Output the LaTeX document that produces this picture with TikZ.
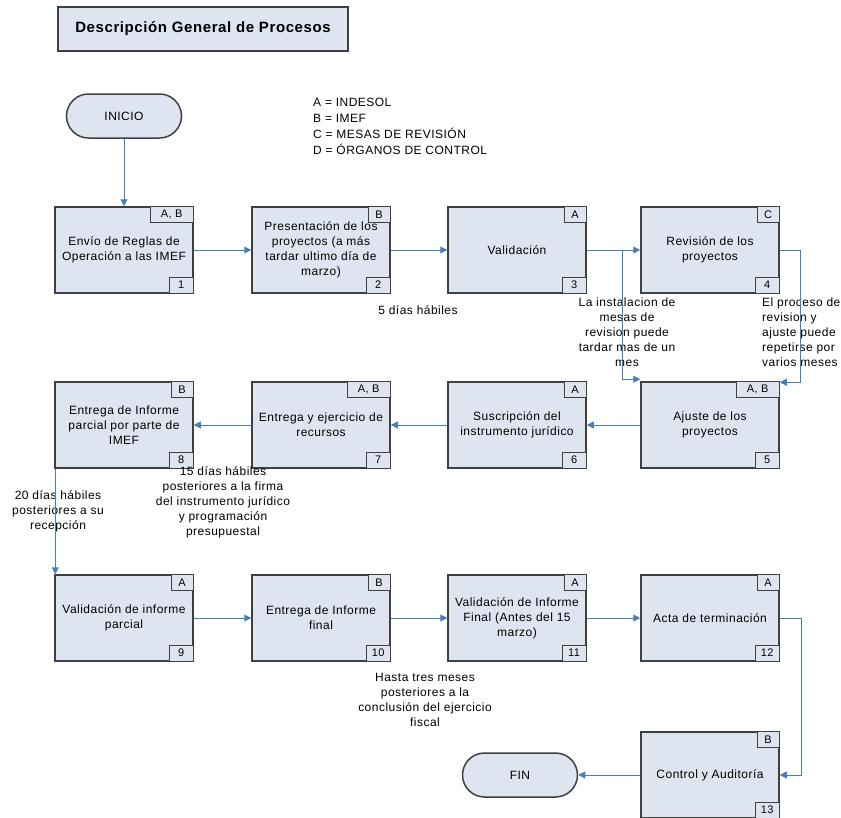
\documentclass[tikz,border=0pt]{standalone}
\usepackage{fontspec}
\setmainfont{Liberation Sans}[LetterSpace=4]
\usepackage{tikz}
\usetikzlibrary{arrows.meta}
\definecolor{boxFill}{RGB}{222, 228, 240}
\definecolor{lineGray}{RGB}{64, 64, 64}
\definecolor{linkBlue}{RGB}{74, 126, 187}

\begin{document}
\begin{tikzpicture}[x=1pt, y=-1pt,
	box/.style={draw=lineGray, line width=1.5pt, fill=boxFill, minimum width=138pt, minimum height=86pt, align=center, inner sep=2pt, font=\fontsize{12}{15}\selectfont},
	term/.style={draw=lineGray, line width=1.5pt, fill=boxFill, rounded corners=22pt, minimum width=115pt, minimum height=44pt, font=\fontsize{12}{13}\selectfont},
	tag/.style={draw=lineGray, line width=1.2pt, fill=boxFill, minimum width=22pt, minimum height=16pt, inner sep=1pt, font=\fontsize{11}{11}\selectfont},
	tagw/.style={tag, minimum width=43pt},
	note/.style={align=center, inner sep=0pt, font=\fontsize{12}{15}\selectfont},
	link/.style={draw=linkBlue, line width=1pt, -{Triangle[length=7pt, width=7pt]}}]
	\useasboundingbox (0,0) rectangle (841,817);
	
	% Title
	\node[draw=lineGray, line width=1.5pt, fill=boxFill, minimum width=290pt, minimum height=44pt, font=\fontsize{15}{15}\selectfont\bfseries] (title) at (203,29) {Descripción General de Procesos};
	
	% Start and end
	\node[term] (ini) at (124,116) {INICIO};
	\node[term] (fin) at (520,775) {FIN};
	
	% Legend
	\node[anchor=west, align=left, inner sep=0pt, font=\fontsize{12}{16}\selectfont] (legend) at (313,126) {A = INDESOL\\B = IMEF\\C = MESAS DE REVISIÓN\\D = ÓRGANOS DE CONTROL};
	
	% Row 1
	\node[box] (p1) at (124,250) {Envío de Reglas de\\Operación a las IMEF};
	\node[box] (p2) at (321,250) {Presentación de los\\proyectos (a más\\tardar ultimo día de\\marzo)};
	\node[box] (p3) at (517,250) {Validación};
	\node[box] (p4) at (710,250) {Revisión de los\\proyectos};
	
	% Row 2
	\node[box] (p5) at (710,425) {Ajuste de los\\proyectos};
	\node[box] (p6) at (517,425) {Suscripción del\\instrumento jurídico};
	\node[box] (p7) at (321,425) {Entrega y ejercicio de\\recursos};
	\node[box] (p8) at (124,425) {Entrega de Informe\\parcial por parte de\\IMEF};
	
	% Row 3
	\node[box] (p9) at (124,618) {Validación de informe\\parcial};
	\node[box] (p10) at (321,618) {Entrega de Informe\\final};
	\node[box] (p11) at (517,618) {Validación de Informe\\Final (Antes del 15\\marzo)};
	\node[box] (p12) at (710,618) {Acta de terminación};
	\node[box] (p13) at (710,775) {Control y Auditoría};
	
	% Responsible tags
	\node[tagw, anchor=north east] (t1) at (p1.north east) {A, B};
	\node[tag, anchor=north east] (t2) at (p2.north east) {B};
	\node[tag, anchor=north east] (t3) at (p3.north east) {A};
	\node[tag, anchor=north east] (t4) at (p4.north east) {C};
	\node[tagw, anchor=north east] (t5) at (p5.north east) {A, B};
	\node[tag, anchor=north east] (t6) at (p6.north east) {A};
	\node[tagw, anchor=north east] (t7) at (p7.north east) {A, B};
	\node[tag, anchor=north east] (t8) at (p8.north east) {B};
	\node[tag, anchor=north east] (t9) at (p9.north east) {A};
	\node[tag, anchor=north east] (t10) at (p10.north east) {B};
	\node[tag, anchor=north east] (t11) at (p11.north east) {A};
	\node[tag, anchor=north east] (t12) at (p12.north east) {A};
	\node[tag, anchor=north east] (t13) at (p13.north east) {B};
	
	% Step numbers
	\node[tag, minimum width=24pt, anchor=south east] (n1) at (p1.south east) {1};
	\node[tag, minimum width=24pt, anchor=south east] (n2) at (p2.south east) {2};
	\node[tag, minimum width=24pt, anchor=south east] (n3) at (p3.south east) {3};
	\node[tag, minimum width=24pt, anchor=south east] (n4) at (p4.south east) {4};
	\node[tag, minimum width=24pt, anchor=south east] (n5) at (p5.south east) {5};
	\node[tag, minimum width=24pt, anchor=south east] (n6) at (p6.south east) {6};
	\node[tag, minimum width=24pt, anchor=south east] (n7) at (p7.south east) {7};
	\node[tag, minimum width=24pt, anchor=south east] (n8) at (p8.south east) {8};
	\node[tag, minimum width=24pt, anchor=south east] (n9) at (p9.south east) {9};
	\node[tag, minimum width=24pt, anchor=south east] (n10) at (p10.south east) {10};
	\node[tag, minimum width=24pt, anchor=south east] (n11) at (p11.south east) {11};
	\node[tag, minimum width=24pt, anchor=south east] (n12) at (p12.south east) {12};
	\node[tag, minimum width=24pt, anchor=south east] (n13) at (p13.south east) {13};
	
	% Notes
	\node[note] (d5) at (418,310) {5 días hábiles};
	\node[note] (mesas) at (627,332) {La instalacion de\\mesas de\\revision puede\\tardar mas de un\\mes};
	\node[note, anchor=west, align=left] (ajuste) at (762,332) {El proceso de\\revision y\\ajuste puede\\repetirse por\\varios meses};
	\node[note] (d15) at (223,502) {15 días hábiles\\posteriores a la firma\\del instrumento jurídico\\y programación\\presupuestal};
	\node[note] (d20) at (58,511) {20 días hábiles\\posteriores a su\\recepción};
	\node[note] (tres) at (425,700) {Hasta tres meses\\posteriores a la\\conclusión del ejercicio\\fiscal};
	
	% Connectors
	\coordinate (j1) at (622,250);
	\draw[link] (ini) -- (p1);
	\draw[link] (p1) -- (p2);
	\draw[link] (p2) -- (p3);
	\draw[link] (p3) -- (p4);
	\draw[link] (j1) |- ([yshift=2pt]p5.north west);
	\draw[link] (p4.east) -- ++(21,0) |- ([yshift=-1pt]p5.north east);
	\draw[link] (p5) -- (p6);
	\draw[link] (p6) -- (p7);
	\draw[link] (p7) -- (p8);
	\draw[link] ([xshift=1pt]p8.south west) -- ([xshift=1pt]p9.north west);
	\draw[link] (p9) -- (p10);
	\draw[link] (p10) -- (p11);
	\draw[link] (p11) -- (p12);
	\draw[link] (p12.east) -- ++(22,0) |- (p13.east);
	\draw[link] (p13) -- (fin);
\end{tikzpicture}
\end{document}
